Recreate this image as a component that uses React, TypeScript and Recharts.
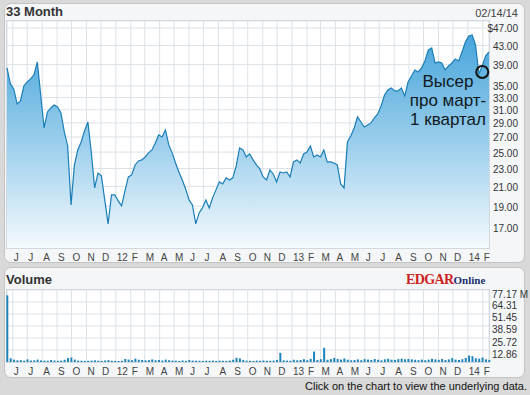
import React from "react";
import {
  AreaChart,
  Area,
  ComposedChart,
  Bar,
  XAxis,
  YAxis,
  CartesianGrid,
  ReferenceDot,
} from "recharts";

// weekly closes, 2011-05-20 .. 2014-02-14
const START = Date.UTC(2011, 4, 20);
const END = Date.UTC(2014, 1, 14);
const WEEK = 7 * 24 * 3600 * 1000;

const closePrices = [
  38.35, 35.36, 34.47, 31.94, 32.43, 35.0, 35.72, 36.27, 37.01, 39.54,
  33.43, 28.27, 30.67, 31.29, 31.77, 31.45, 30.51, 27.7, 25.79, 19.11,
  23.42, 25.28, 26.32, 27.84, 29.14, 25.02, 20.84, 22.48, 22.15, 19.6,
  17.35, 20.11, 20.11, 19.5, 19.02, 20.52, 22.03, 22.26, 23.42, 23.9,
  24.03, 24.39, 24.9, 25.28, 26.19, 27.28, 27.01, 27.98, 25.93, 24.9,
  23.66, 22.6, 21.7, 20.73, 19.6, 19.11, 17.35, 18.35, 18.82, 19.6,
  18.82, 19.81, 20.63, 21.48, 21.26, 21.93, 21.7, 21.93, 23.3, 25.53,
  25.28, 24.39, 24.77, 24.03, 23.42, 22.95, 22.03, 21.7, 22.83, 22.37,
  21.48, 22.6, 22.48, 22.6, 22.03, 23.78, 24.03, 23.66, 24.77, 25.02,
  25.79, 24.39, 24.64, 24.39, 25.28, 23.78, 23.78, 23.66, 23.42, 21.26,
  20.84, 26.32, 27.14, 28.27, 29.89, 29.14, 28.41, 28.7, 29.0, 29.74,
  30.35, 31.62, 33.43, 34.3, 34.65, 34.12, 34.12, 34.65, 33.26, 35.72,
  36.82, 37.96, 37.58, 38.35, 39.74, 42.03, 42.46, 39.34, 39.54, 39.34,
  37.96, 38.74, 39.34, 40.15, 39.74, 41.6, 43.77, 45.13, 45.36, 43.11,
  37.2, 38.74, 40.76, 41.6,
];

// weekly volume, millions
const volumes = [
  71.5, 4.0, 2.5, 1.8, 2.0, 1.5, 2.8, 1.6, 1.8, 2.6,
  1.7, 1.5, 1.4, 2.2, 1.6, 1.3, 1.5, 2.4, 4.2, 4.8,
  2.6, 1.5, 1.4, 1.2, 1.3, 1.5, 1.8, 1.4, 1.2, 1.6,
  2.0, 1.3, 1.2, 1.1, 1.4, 3.2, 2.6, 1.9, 3.6, 2.4,
  2.2, 1.8, 2.0, 2.8, 1.9, 2.2, 1.6, 2.6, 1.9, 1.5,
  1.4, 1.2, 1.6, 1.3, 2.1, 1.5, 1.4, 1.3, 1.2, 1.4,
  1.3, 1.5, 1.2, 1.4, 1.3, 1.2, 1.5, 2.4, 4.5, 3.8,
  2.2, 1.4, 1.3, 1.2, 1.5, 1.3, 1.6, 1.4, 1.3, 1.5,
  2.2, 9.8, 1.8, 1.5, 1.3, 2.4, 1.8, 2.1, 3.0, 2.0,
  3.4, 11.2, 2.2, 3.0, 15.2, 2.4, 3.1, 4.4, 3.2, 2.6,
  3.8, 2.5, 1.8, 2.2, 2.8, 1.9, 3.0, 2.6, 2.2, 3.2,
  2.4, 1.8, 2.9, 3.4, 2.5, 2.2, 3.1, 3.6, 2.9, 3.3,
  2.8, 2.4, 2.0, 2.6, 1.9, 2.6, 3.4, 2.8, 2.3, 3.2,
  2.1, 2.8, 4.2, 2.6, 2.2, 3.0, 4.4, 6.9, 6.2, 4.0,
  3.6, 4.8, 2.9, 2.2,
];

const monthLabels = [
  "J", "J", "A", "S", "O", "N", "D", "12",
  "F", "M", "A", "M", "J", "J", "A", "S", "O", "N", "D", "13",
  "F", "M", "A", "M", "J", "J", "A", "S", "O", "N", "D", "14",
  "F",
];
const priceTicks = [17, 19, 21, 23, 25, 27, 29, 31, 33, 35, 39, 43, 47];
const volumeTicks = [0, 12.86, 25.72, 38.59, 51.45, 64.31, 77.17];
const noteLines = ["Высер", "про март-", "1 квартал"];
const markWeek = 141;
const markPrice = 37.58;

const monthTicks = monthLabels.map((_, k) => Date.UTC(2011, 5 + k, 1));
const data = closePrices.map((p, i) => ({
  t: START + i * WEEK,
  price: p,
  vol: volumes[i],
}));

const FONT = "'Liberation Sans', Arial, sans-serif";

const MonthTick = (props: any) => {
  const { x, y, payload } = props;
  const k = monthTicks.indexOf(payload.value);
  return (
    <text x={x + 1} y={y} dy="0.71em" fontSize={10} fill="#444" fontFamily={FONT} textAnchor="start">
      {monthLabels[k]}
    </text>
  );
};

const PriceTick = (props: any) => {
  const { x, y, payload } = props;
  const v = payload.value;
  return (
    <text x={x + 27} y={y + 1} dy="0.35em" fontSize={10} fill="#333" fontFamily={FONT} textAnchor="end">
      {v === 47 ? "$47.00" : v.toFixed(2)}
    </text>
  );
};

const VolTick = (props: any) => {
  const { x, y, payload } = props;
  const v = payload.value;
  if (v === 0) return null;
  return (
    <text x={x} y={y + 4} dy="0.35em" fontSize={10} fill="#333" fontFamily={FONT} textAnchor="start">
      {v === 77.17 ? "77.17 M" : v.toFixed(2)}
    </text>
  );
};

const panel: React.CSSProperties = {
  position: "absolute",
  left: 4,
  width: 521,
  boxSizing: "border-box",
  border: "1px solid #c4c4c4",
  borderRadius: 7,
  background: "#f4f6f8",
};

const plotBox: React.CSSProperties = {
  position: "absolute",
  left: 6,
  width: 484,
  boxSizing: "border-box",
  border: "1px solid #c9cfd6",
  background: "#fff",
};

export default function App() {
  return (
    <div
      style={{
        position: "absolute",
        left: 0,
        top: 0,
        width: 530,
        height: 395,
        overflow: "hidden",
        background: "#d9d9d9",
        fontFamily: FONT,
      }}
    >
      <div style={{ ...panel, top: 3, height: 260 }} />
      <div style={{ ...panel, top: 267, height: 111 }} />
      <div style={{ ...plotBox, top: 20, height: 229 }} />
      <div style={{ ...plotBox, top: 289, height: 74 }} />

      <div style={{ position: "absolute", left: 6, top: 4, fontSize: 13, fontWeight: "bold", color: "#333" }}>
        33 Month
      </div>
      <div style={{ position: "absolute", right: 12, top: 7, fontSize: 11, color: "#444" }}>02/14/14</div>
      <div style={{ position: "absolute", left: 6, top: 272, fontSize: 13, fontWeight: "bold", color: "#333" }}>
        Volume
      </div>
      <div style={{ position: "absolute", left: 406, top: 270, whiteSpace: "nowrap", fontFamily: "'Liberation Serif', 'Times New Roman', serif", fontWeight: "bold" }}>
        <span style={{ color: "#cc1f1f", fontSize: 14, letterSpacing: -0.6 }}>EDGAR</span>
        <span style={{ color: "#1c2f6e", fontSize: 11 }}>Online</span>
      </div>

      <div style={{ position: "absolute", left: 0, top: 0 }}>
        <AreaChart width={530} height={262} data={data} margin={{ top: 21, right: 0, bottom: 0, left: 7 }}>
          <defs>
            <linearGradient id="priceFill" x1="0" y1="0" x2="0" y2="1">
              <stop offset="0%" stopColor="#47a5da" />
              <stop offset="55%" stopColor="#a3d2ee" />
              <stop offset="100%" stopColor="#f5fafd" />
            </linearGradient>
          </defs>
          <CartesianGrid stroke="#dde2e7" />
          <XAxis
            dataKey="t"
            type="number"
            domain={[START, END]}
            ticks={monthTicks}
            interval={0}
            height={14}
            tickSize={4}
            tickMargin={2}
            axisLine={false}
            tickLine={false}
            tick={<MonthTick />}
          />
          <YAxis
            orientation="right"
            type="number"
            scale="log"
            domain={[15.35, 48.7]}
            allowDataOverflow
            ticks={priceTicks}
            interval={0}
            width={41}
            tickSize={0}
            tickMargin={2}
            axisLine={false}
            tickLine={false}
            tick={<PriceTick />}
          />
          <Area
            type="linear"
            dataKey="price"
            stroke="#1a7eb7"
            strokeWidth={1.2}
            fill="url(#priceFill)"
            fillOpacity={1}
            dot={false}
            activeDot={false}
            isAnimationActive={false}
          />
          <ReferenceDot
            x={data[markWeek].t}
            y={markPrice}
            r={6}
            fill="none"
            stroke="#111"
            strokeWidth={2}
          />
        </AreaChart>
      </div>

      <div
        style={{
          position: "absolute",
          left: 398,
          top: 72,
          width: 100,
          textAlign: "center",
          fontSize: 17,
          lineHeight: "19px",
          color: "#101820",
        }}
      >
        {noteLines.map((s) => (
          <div key={s}>{s}</div>
        ))}
      </div>

      <div style={{ position: "absolute", left: 0, top: 267 }}>
        <ComposedChart width={530} height={110} data={data} margin={{ top: 23, right: 0, bottom: 0, left: 7 }}>
          <CartesianGrid stroke="#dde2e7" />
          <XAxis
            dataKey="t"
            type="number"
            domain={[START, END]}
            ticks={monthTicks}
            interval={0}
            height={15}
            tickSize={4}
            tickMargin={2}
            axisLine={false}
            tickLine={false}
            tick={<MonthTick />}
          />
          <YAxis
            orientation="right"
            type="number"
            domain={[0, 77.17]}
            ticks={volumeTicks}
            interval={0}
            width={41}
            tickSize={0}
            tickMargin={3}
            axisLine={false}
            tickLine={false}
            tick={<VolTick />}
          />
          <Bar dataKey="vol" fill="#1d85bc" barSize={2} isAnimationActive={false} />
        </ComposedChart>
      </div>

      <div style={{ position: "absolute", right: 3, top: 380, fontSize: 11, color: "#111" }}>
        Click on the chart to view the underlying data.
      </div>
    </div>
  );
}
